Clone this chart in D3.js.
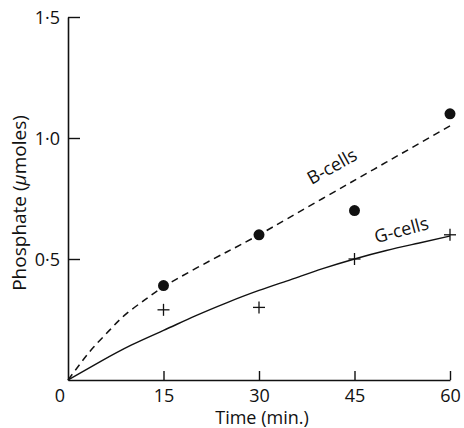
<!DOCTYPE html>
<html>
<head>
<meta charset="utf-8">
<script src="https://cdn.jsdelivr.net/npm/d3@7"></script>
<style>
  html, body { margin: 0; padding: 0; background: #fff; }
  svg { display: block; }
  text { font-family: "Open Sans", "Noto Sans", sans-serif; fill: #111; }
</style>
</head>
<body>
<svg id="chart" width="464" height="428"></svg>
<script>
// Time points (min.)
const times = [15, 30, 45, 60];
// Measured phosphate (µmoles)
const bCells = [0.39, 0.60, 0.70, 1.10];
const gCells = [0.29, 0.30, 0.50, 0.60];

// Fitted curves through the origin
const bCurveT = [0, 2, 4, 6.5, 9, 12, 15, 20, 25, 30, 40, 50, 60];
const bCurveY = [0, 0.07, 0.135, 0.205, 0.27, 0.33, 0.385, 0.46, 0.53, 0.60, 0.75, 0.90, 1.05];
const gCurveT = [0, 5, 10, 15, 20, 25, 30, 35, 40, 45, 50, 55, 60];
const gCurveY = [0, 0.075, 0.145, 0.205, 0.265, 0.32, 0.37, 0.415, 0.46, 0.50, 0.535, 0.565, 0.595];

const xTicks = [15, 30, 45, 60];
const xTickLabels = ["15", "30", "45", "60"];
const yTicks = [0.5, 1.0, 1.5];
const yTickLabels = ["0·5", "1·0", "1·5"];

const svg = d3.select("#chart");
const x = d3.scaleLinear().domain([0, 60]).range([68, 450]);
const y = d3.scaleLinear().domain([0, 1.5]).range([380, 17]);

const ink = "#111";

// Axes drawn as plain lines with inward ticks
const xAxis = d3.axisBottom(x).tickValues(xTicks).tickSizeInner(-9).tickSizeOuter(0)
  .tickFormat((d, i) => xTickLabels[i]);
const gx = svg.append("g").attr("transform", `translate(0,${y(0)})`).call(xAxis);
gx.select(".domain").attr("stroke", ink).attr("stroke-width", 1.6);
gx.selectAll(".tick line").attr("stroke", ink).attr("stroke-width", 1.4);
gx.selectAll(".tick text").attr("dy", 0).attr("y", 22)
  .style("font-size", "18px").attr("fill", ink);

const yAxis = d3.axisLeft(y).tickValues(yTicks).tickSizeInner(-12).tickSizeOuter(0)
  .tickFormat((d, i) => yTickLabels[i]);
const gy = svg.append("g").attr("transform", `translate(${x(0)},0)`).call(yAxis);
gy.select(".domain").attr("stroke", ink).attr("stroke-width", 1.6);
gy.selectAll(".tick line").attr("stroke", ink).attr("stroke-width", 1.4);
gy.selectAll(".tick text").attr("x", -8).attr("dy", "0.36em")
  .style("font-size", "18px").attr("fill", ink);

// Shared origin label
svg.append("text").attr("x", x(0) - 8).attr("y", y(0) + 22)
  .attr("text-anchor", "middle").style("font-size", "18px").text("0");

// Axis titles
svg.append("text").attr("x", 262).attr("y", 424).attr("text-anchor", "middle")
  .style("font-size", "18px").text("Time (min.)");

const yl = svg.append("text")
  .attr("transform", `translate(26,${203}) rotate(-90)`)
  .attr("text-anchor", "middle").style("font-size", "19px");
yl.append("tspan").text("Phosphate (");
yl.append("tspan").style("font-style", "italic").text("μ");
yl.append("tspan").text("moles)");

// Curves: smooth natural splines through the fitted points
const line = d3.line().x(d => x(d[0])).y(d => y(d[1])).curve(d3.curveNatural);
svg.append("path")
  .datum(bCurveT.map((t, i) => [t, bCurveY[i]]))
  .attr("d", line).attr("fill", "none").attr("stroke", ink)
  .attr("stroke-width", 1.5).attr("stroke-dasharray", "7,5");
svg.append("path")
  .datum(gCurveT.map((t, i) => [t, gCurveY[i]]))
  .attr("d", line).attr("fill", "none").attr("stroke", ink)
  .attr("stroke-width", 1.4);

// B-cell measurements: filled dots
svg.selectAll(".bdot").data(times).enter().append("circle")
  .attr("cx", d => x(d)).attr("cy", (d, i) => y(bCells[i])).attr("r", 5.5)
  .attr("fill", ink);

// G-cell measurements: crosses
const cross = svg.selectAll(".gcross").data(times).enter().append("g")
  .attr("transform", (d, i) => `translate(${x(d)},${y(gCells[i])})`);
cross.append("line").attr("x1", -6).attr("x2", 6).attr("stroke", ink).attr("stroke-width", 1.3);
cross.append("line").attr("y1", -6).attr("y2", 6).attr("stroke", ink).attr("stroke-width", 1.3);

// Curve labels
svg.append("text").attr("transform", "translate(335,172) rotate(-29)")
  .attr("text-anchor", "middle").style("font-size", "18px").text("B-cells");
svg.append("text").attr("transform", "translate(403,236) rotate(-15)")
  .attr("text-anchor", "middle").style("font-size", "18px").text("G-cells");
</script>
</body>
</html>
